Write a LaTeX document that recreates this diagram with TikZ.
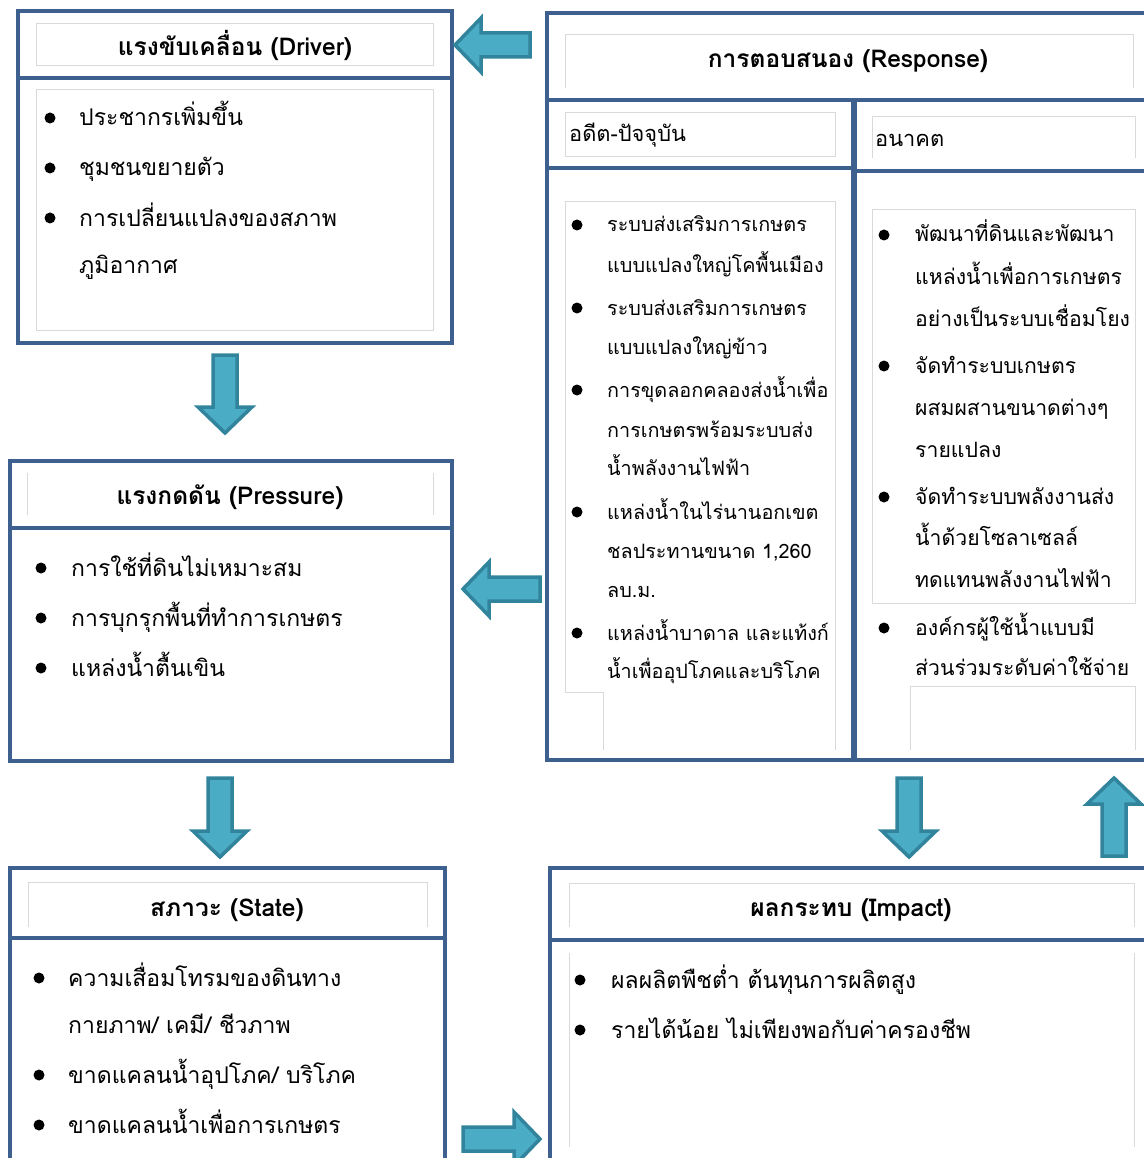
\documentclass[tikz,border=0pt]{standalone}
\usepackage{fontspec}
\setmainfont[Script=Thai]{Loma}
\definecolor{boxblue}{HTML}{3E608F}
\definecolor{innergray}{HTML}{D9D9D9}
\definecolor{arrowfill}{HTML}{4BACC6}
\definecolor{arrowedge}{HTML}{31849B}
\tikzset{
  frame/.style={draw=boxblue, line width=4pt, inner sep=0pt, outer sep=0pt, anchor=north west},
  divider/.style={draw=boxblue, line width=4pt},
  inner/.style={draw=innergray, line width=1pt},
  txt/.style={anchor=base west, inner sep=0pt, font=\fontsize{23}{27}\selectfont},
  txtL/.style={anchor=base west, inner sep=0pt, font=\fontsize{19.8}{24}\selectfont},
  txtR/.style={anchor=base west, inner sep=0pt, font=\fontsize{21.2}{25}\selectfont},
  txtH/.style={anchor=base west, inner sep=0pt, font=\fontsize{21.8}{26}\selectfont},
  ttl/.style={anchor=base, inner sep=0pt, font=\bfseries\fontsize{24.5}{29}\selectfont},
  dot/.style={circle, fill=black, inner sep=0pt, minimum size=11pt},
  blk/.style={fill=arrowfill, draw=arrowedge, line width=3.5pt, line join=miter},
}
\newcommand\itm[4]{\node[txt] (#1) at (#2,#3+8) {#4};}
\newcommand\itmL[4]{\node[txtL] (#1) at (#2,#3+7) {#4};}
\newcommand\itmR[4]{\node[txtR] (#1) at (#2,#3+7) {#4};}
\newcommand\itmH[4]{\node[txtH] (#1) at (#2,#3+7) {#4};}
\newcommand\bul[3]{\node[dot] (#1) at (#2,#3) {};}
\newcommand\barrow[4]{%
  \draw[blk, shift={(#1,#2)}, rotate=#3] (0,-12) -- (#4-26,-12) -- (#4-26,-27) -- (#4,0) -- (#4-26,27) -- (#4-26,12) -- (0,12) -- cycle;}
\begin{document}
\begin{tikzpicture}[x=1pt,y=-1pt]
\useasboundingbox (0,0) rectangle (1143,1158);
% ---------------- Driver
\node[frame, minimum width=434pt, minimum height=332pt] (driver) at (18,11) {};
\draw[divider] (18,78) -- (452,78);
\draw[inner] (36,24) rectangle (433,66);
\draw[inner] (36,90) rectangle (433,330);
\node[ttl] (drvT) at (235,56) {แรงขับเคลื่อน (Driver)};
\bul{d1b}{50}{118}\itm{d1}{79}{118}{ประชากรเพิ่มขึ้น}
\bul{d2b}{50}{168}\itm{d2}{79}{168}{ชุมชนขยายตัว}
\bul{d3b}{50}{218}\itm{d3}{79}{218}{การเปลี่ยนแปลงของสภาพ}
\itm{d4}{79}{265}{ภูมิอากาศ}
% ---------------- Pressure
\node[frame, minimum width=442pt, minimum height=300pt] (pressure) at (10,461) {};
\draw[divider] (10,528) -- (452,528);
\draw[inner] (27,473) -- (27,515);
\draw[inner] (433,473) -- (433,515);
\node[ttl] (preT) at (230,504) {แรงกดดัน (Pressure)};
\bul{p1b}{41}{568}\itm{p1}{71}{568}{การใช้ที่ดินไม่เหมาะสม}
\bul{p2b}{41}{618}\itm{p2}{71}{618}{การบุกรุกพื้นที่ทำการเกษตร}
\bul{p3b}{41}{668}\itm{p3}{71}{668}{แหล่งน้ำตื้นเขิน}
% ---------------- State
\node[frame, minimum width=435pt, minimum height=310pt] (state) at (10,868) {};
\draw[divider] (10,938) -- (445,938);
\draw[inner] (28,927) -- (28,882) -- (427,882) -- (427,927);
\node[ttl] (staT) at (227,916) {สภาวะ (State)};
\bul{s1b}{39}{978}\itm{s1}{68}{978}{ความเสื่อมโทรมของดินทาง}
\itm{s2}{68}{1025}{กายภาพ/ เคมี/ ชีวภาพ}
\bul{s3b}{39}{1075}\itm{s3}{68}{1075}{ขาดแคลนน้ำอุปโภค/ บริโภค}
\bul{s4b}{39}{1125}\itm{s4}{68}{1125}{ขาดแคลนน้ำเพื่อการเกษตร}
% ---------------- Impact
\node[frame, minimum width=610pt, minimum height=310pt] (impact) at (550,868) {};
\draw[divider] (550,940) -- (1160,940);
\draw[inner] (569,927) -- (569,883) -- (1134,883) -- (1134,927);
\draw[inner] (569,953) -- (569,1147);
\draw[inner] (1134,953) -- (1134,1147);
\node[ttl] (impT) at (851,916) {ผลกระทบ (Impact)};
\bul{i1b}{580}{980}\itm{i1}{611}{980}{ผลผลิตพืชต่ำ ต้นทุนการผลิตสูง}
\bul{i2b}{580}{1030}\itm{i2}{611}{1030}{รายได้น้อย ไม่เพียงพอกับค่าครองชีพ}
% ---------------- Response
\node[frame, minimum width=613pt, minimum height=747pt] (response) at (547,13) {};
\draw[divider] (547,100) -- (1160,100);
\draw[divider, line width=6pt] (854,100) -- (854,760);
\draw[divider] (547,168) -- (854,168);
\draw[divider] (854,171) -- (1160,171);
\draw[inner] (565,88) -- (565,35) -- (1133,35) -- (1133,88);
\node[ttl] (resT) at (848,68) {การตอบสนอง (Response)};
\draw[inner] (565,113) rectangle (835,157);
\itmH{past}{569}{135}{อดีต-ปัจจุบัน}
\draw[inner] (872,158) -- (872,117) -- (1135,117) -- (1135,158);
\itmH{future}{875}{140}{อนาคต}
\draw[inner] (835,750) -- (835,202) -- (565,202) -- (565,692) -- (603,692) -- (603,750);
\draw[inner] (872,210) rectangle (1135,603);
\draw[inner] (910,750) -- (910,686) -- (1135,686) -- (1135,750);
% past column
\bul{a1b}{577}{225}\itmL{a1}{607}{225}{ระบบส่งเสริมการเกษตร}
\itmL{a2}{607}{265}{แบบแปลงใหญ่โคพื้นเมือง}
\bul{a3b}{577}{308}\itmL{a3}{607}{308}{ระบบส่งเสริมการเกษตร}
\itmL{a4}{607}{347}{แบบแปลงใหญ่ข้าว}
\bul{a5b}{577}{390}\itmL{a5}{607}{390}{การขุดลอกคลองส่งน้ำเพื่อ}
\itmL{a6}{607}{430}{การเกษตรพร้อมระบบส่ง}
\itmL{a7}{607}{468}{น้ำพลังงานไฟฟ้า}
\bul{a8b}{577}{512}\itmL{a8}{607}{512}{แหล่งน้ำในไร่นานอกเขต}
\itmL{a9}{607}{551}{ชลประทานขนาด 1,260}
\itmL{a10}{607}{590}{ลบ.ม.}
\bul{a11b}{577}{633}\itmL{a11}{607}{633}{แหล่งน้ำบาดาล และแท้งก์}
\itmL{a12}{607}{671}{น้ำเพื่ออุปโภคและบริโภค}
% future column
\bul{f1b}{884}{235}\itmR{f1}{915}{235}{พัฒนาที่ดินและพัฒนา}
\itmR{f2}{915}{277}{แหล่งน้ำเพื่อการเกษตร}
\itmR{f3}{915}{319}{อย่างเป็นระบบเชื่อมโยง}
\bul{f4b}{884}{366}\itmR{f4}{915}{366}{จัดทำระบบเกษตร}
\itmR{f5}{915}{408}{ผสมผสานขนาดต่างๆ}
\itmR{f6}{915}{450}{รายแปลง}
\bul{f7b}{884}{497}\itmR{f7}{915}{497}{จัดทำระบบพลังงานส่ง}
\itmR{f8}{915}{538}{น้ำด้วยโซลาเซลล์}
\itmR{f9}{915}{580}{ทดแทนพลังงานไฟฟ้า}
\bul{f10b}{884}{628}\itmR{f10}{915}{628}{องค์กรผู้ใช้น้ำแบบมี}
\itmR{f11}{915}{668}{ส่วนร่วมระดับค่าใช้จ่าย}
% ---------------- block arrows
\barrow{530}{45}{180}{75}
\barrow{225}{355}{-90}{78}
\barrow{540}{589}{180}{77}
\barrow{220}{778}{-90}{79}
\barrow{909}{778}{-90}{79}
\barrow{1114}{856}{90}{78}
\barrow{463}{1139}{0}{77}
\end{tikzpicture}
\end{document}
